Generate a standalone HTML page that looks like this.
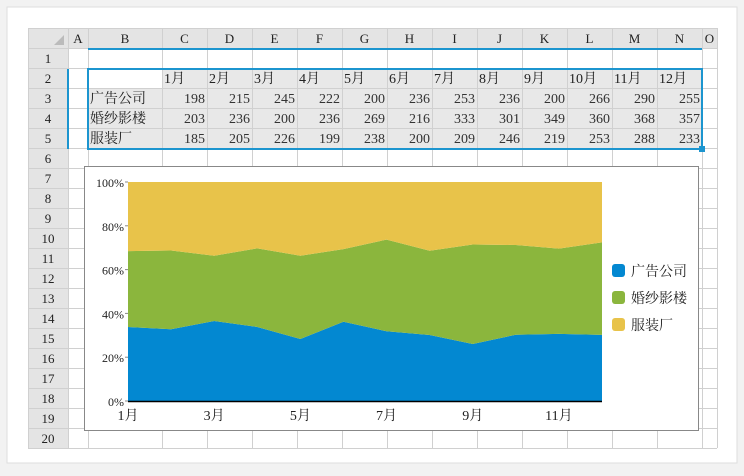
<!DOCTYPE html>
<html><head><meta charset="utf-8"><style>
body{margin:0;width:744px;height:471px;background:#f2f2f2;overflow:hidden;font-family:"Liberation Serif","Noto Serif CJK SC",serif}
svg text{font-family:"Liberation Serif","Noto Serif CJK SC",serif}
</style></head><body>
<svg id="s" width="744" height="471">
<rect x="7" y="7" width="730" height="456" fill="#fff" stroke="#ddd"/>
<g id="grid"></g>
<g id="chart"></g>
</svg>
<script>
const months=["1月","2月","3月","4月","5月","6月","7月","8月","9月","10月","11月","12月"];
const seriesNames=["广告公司","婚纱影楼","服装厂"];
const ad=[198,215,245,222,200,236,253,236,200,266,290,255];
const wedding=[203,236,200,236,269,216,333,301,349,360,368,357];
const clothing=[185,205,226,199,238,200,209,246,219,253,288,233];
const yTicks=[0,20,40,60,80,100];
const xTickIdx=[0,2,4,6,8,10];
const colors=["#0388d1","#8bb63d","#e8c34a"];
const NS="http://www.w3.org/2000/svg";
function mk(p,t,a,txt){const e=document.createElementNS(NS,t);for(const k in a)e.setAttribute(k,a[k]);if(txt!=null)e.textContent=txt;p.appendChild(e);return e;}
const G=document.getElementById('grid');
const colX=[28,68,88,162];for(let i=0;i<12;i++)colX.push(colX[colX.length-1]+45);colX.push(717);
const letters=["","A","B","C","D","E","F","G","H","I","J","K","L","M","N","O"];
const TOP=28,hh=20,rh=20,nrows=20;
let r=mk(G,'rect',{x:28,y:TOP,width:689,height:hh,fill:'#e4e4e4'});


r=mk(G,'rect',{x:28,y:TOP,width:40,height:hh+rh*nrows,fill:'#e4e4e4'});


mk(G,'rect',{x:88,y:TOP+hh+rh,width:614,height:rh*4,fill:'#e8e8e8'});
mk(G,'rect',{x:88,y:TOP+hh+rh,width:74,height:rh,fill:'#fff'});
for(let i=0;i<colX.length;i++)mk(G,'line',{x1:colX[i]+.5,y1:TOP,x2:colX[i]+.5,y2:TOP+hh+rh*nrows,stroke:'#d0d0d0'});
for(let j=0;j<=nrows+1;j++){const y=TOP+(j?hh+rh*(j-1):0)+.5;mk(G,'line',{x1:28,y1:y,x2:717,y2:y,stroke:'#d0d0d0'});}
for(let i=1;i<letters.length;i++){const t=mk(G,'text',{x:(colX[i]+colX[i+1])/2,y:TOP+15,'text-anchor':'middle','font-size':13,fill:'#222'},letters[i]);

}
mk(G,'path',{d:'M54 45 L64 45 L64 35 Z',fill:'#bbb'});
for(let j=1;j<=nrows;j++){const t=mk(G,'text',{x:48,y:TOP+hh+rh*(j-1)+15,'text-anchor':'middle','font-size':13,fill:'#222'},String(j));

}
const rowsData=[ad,wedding,clothing];
months.forEach((m,i)=>{const t=mk(G,'text',{x:colX[i+3]+2,y:TOP+hh+rh+15,'font-size':14,fill:'#222'},m);

});
rowsData.forEach((arr,k)=>{const y=TOP+hh+rh*(k+2)+15;
const t=mk(G,'text',{x:90,y:y,'font-size':14,fill:'#222'},seriesNames[k]);


arr.forEach((v,i)=>{const c=mk(G,'text',{x:colX[i+4]-2,y:y,'text-anchor':'end','font-size':14,fill:'#333'},String(v));

});});
mk(G,'line',{x1:88,y1:49,x2:702,y2:49,stroke:'#1c95cf','stroke-width':2});
mk(G,'line',{x1:68,y1:69,x2:68,y2:149,stroke:'#1c95cf','stroke-width':2});
r=mk(G,'rect',{x:88,y:69,width:614,height:80,fill:'none',stroke:'#1c95cf','stroke-width':2});


r=mk(G,'rect',{x:699,y:146,width:6,height:6,fill:'#1c95cf'});


const C=document.getElementById('chart');
r=mk(C,'rect',{x:84.5,y:166.5,width:614,height:264,fill:'#fff',stroke:'#888'});


const px0=128,px1=602,py0=401,py1=182;
const xs=i=>px0+(px1-px0)*i/(months.length-1);
const ys=p=>py0-(py0-py1)*p/100;
const tot=months.map((_,i)=>ad[i]+wedding[i]+clothing[i]);
const c1=ad.map((v,i)=>v/tot[i]*100);
const c2=wedding.map((v,i)=>c1[i]+v/tot[i]*100);
const c3=clothing.map((v,i)=>c2[i]+v/tot[i]*100);
const layers=[[null,c1],[c1,c2],[c2,c3]];
layers.forEach((L,k)=>{let d='';L[1].forEach((v,i)=>{d+=(i?'L':'M')+xs(i)+' '+ys(v)+' ';});
for(let i=months.length-1;i>=0;i--)d+='L'+xs(i)+' '+ys(L[0]?L[0][i]:0)+' ';
const p=mk(C,'path',{d:d+'Z',fill:colors[k]});

});
mk(C,'line',{x1:px0,y1:py0+.5,x2:px1,y2:py0+.5,stroke:'#000','stroke-width':1.5});
yTicks.forEach(t=>{const l=mk(C,'text',{x:px0-4,y:ys(t)+5,'text-anchor':'end','font-size':12,fill:'#222'},t+'%');


mk(C,'line',{x1:px0-3,y1:ys(t),x2:px0,y2:ys(t),stroke:'#888'});});
xTickIdx.forEach(i=>{const l=mk(C,'text',{x:xs(i),y:420,'text-anchor':'middle','font-size':14,fill:'#222'},months[i]);

});
seriesNames.forEach((n,k)=>{const y=271+27*k;
const g=mk(C,'g',{});


mk(g,'rect',{x:612,y:y-7,width:13,height:13,rx:3,fill:colors[k]});
mk(g,'text',{x:631,y:y+5,'font-size':14,fill:'#222','font-family':'"Liberation Sans","Noto Sans CJK SC",sans-serif'},n);});
</script>
</body></html>
